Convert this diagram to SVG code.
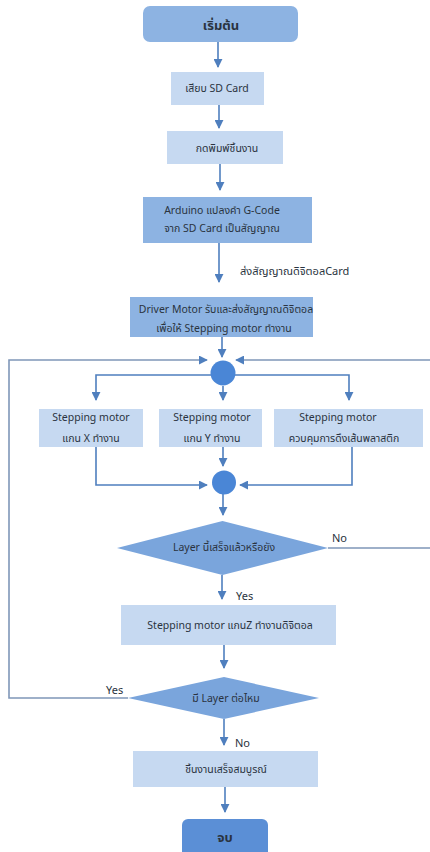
<svg xmlns="http://www.w3.org/2000/svg" width="430" height="852" viewBox="0 0 430 852">
<defs>
<style>
text{font-family:"Noto Sans","Noto Sans Thai","Open Sans",sans-serif;font-size:10.5px;fill:#2a3340;text-anchor:middle;dominant-baseline:central}
.b{font-weight:bold;font-size:13px}
.lbl{text-anchor:start;font-size:11px}
.light{fill:#c6d9f1}
.mid{fill:#8db3e2}
.dia{fill:#7aa5dc}
.term{fill:#8db3e2}
.end{fill:#5b8fd6}
.dot{fill:#4a86d6}
.c{fill:none;stroke:#4f7fbe;stroke-width:1.6}
.loop{fill:none;stroke:#7f97b8;stroke-width:1.6}
</style>
<marker id="ah" viewBox="0 0 10 10" refX="9" refY="5" markerWidth="9" markerHeight="9" markerUnits="userSpaceOnUse" orient="auto">
<path d="M0,0 L10,5 L0,10 z" fill="#4f7fbe"/>
</marker>
</defs>
<rect width="430" height="852" fill="#ffffff"/>

<g id="connectors">
<path class="c" d="M218,42 V67" marker-end="url(#ah)"/>
<path class="c" d="M219,105 V128" marker-end="url(#ah)"/>
<path class="c" d="M220,164 V190" marker-end="url(#ah)"/>
<path class="c" d="M219,243 V282" marker-end="url(#ah)"/>
<path class="c" d="M222,337 V357" marker-end="url(#ah)"/>
<path class="loop" d="M128,698 H9 V360 H207" marker-end="url(#ah)"/>
<path class="loop" d="M328,548 H432 V360 H236" marker-end="url(#ah)"/>
<path class="c" d="M211,375 H96 V400" marker-end="url(#ah)"/>
<path class="c" d="M235,375 H349 V400" marker-end="url(#ah)"/>
<path class="c" d="M223,386 V400" marker-end="url(#ah)"/>
<path class="c" d="M96,447 V485 H207" marker-end="url(#ah)"/>
<path class="c" d="M223,447 V466" marker-end="url(#ah)"/>
<path class="c" d="M352,447 V485 H240" marker-end="url(#ah)"/>
<path class="c" d="M223,494 V515" marker-end="url(#ah)"/>
<path class="c" d="M222,575 V599" marker-end="url(#ah)"/>
<path class="c" d="M224,645 V668" marker-end="url(#ah)"/>
<path class="c" d="M224,719 V745" marker-end="url(#ah)"/>
<path class="c" d="M225,787 V812" marker-end="url(#ah)"/>
<text class="lbl" x="240" y="270" font-size="12.5" fill="#111">ส่งสัญญาณดิจิตอลCard</text>
<text class="lbl" x="332" y="537">No</text>
<text class="lbl" x="236" y="595">Yes</text>
<text class="lbl" x="106" y="689">Yes</text>
<text class="lbl" x="235" y="742">No</text>
</g>

<g id="start">
<rect class="term" x="143" y="6" width="155" height="36" rx="7"/>
<text class="b" x="221" y="25">เริ่มต้น</text>
</g>
<g id="insert-sd">
<rect class="light" x="171" y="72" width="93" height="33"/>
<text x="217" y="88">เสียบ SD Card</text>
</g>
<g id="print">
<rect class="light" x="167" y="131" width="116" height="33"/>
<text x="227" y="148">กดพิมพ์ชิ้นงาน</text>
</g>
<g id="arduino">
<rect class="mid" x="143" y="197" width="169" height="46"/>
<text x="222" y="210">Arduino แปลงคำ G-Code</text>
<text x="222" y="228">จาก SD Card เป็นสัญญาณ</text>
</g>
<g id="driver">
<rect class="mid" x="130" y="297" width="183" height="40"/>
<text x="226" y="309" font-size="10">Driver Motor รับและส่งสัญญาณดิจิตอล</text>
<text x="224" y="328">เพื่อให้ Stepping motor ทำงาน</text>
</g>
<g id="split">
<circle class="dot" cx="223" cy="373" r="12.5"/>
</g>
<g id="motor-x">
<rect class="light" x="39" y="409" width="104" height="38"/>
<text x="91" y="417">Stepping motor</text>
<text x="91" y="438">แกน X ทำงาน</text>
</g>
<g id="motor-y">
<rect class="light" x="159" y="409" width="103" height="38"/>
<text x="212" y="417">Stepping motor</text>
<text x="212" y="438">แกน Y ทำงาน</text>
</g>
<g id="motor-e">
<rect class="light" x="274" y="409" width="149" height="38"/>
<text x="338" y="417">Stepping motor</text>
<text x="344" y="438">ควบคุมการดึงเส้นพลาสติก</text>
</g>
<g id="join">
<circle class="dot" cx="224" cy="482.5" r="12"/>
</g>
<g id="layer-done">
<polygon class="dia" points="117,548 222.5,521 328,548 222.5,575"/>
<text x="224" y="547">Layer นี้เสร็จแล้วหรือยัง</text>
</g>
<g id="motor-z">
<rect class="light" x="121" y="605" width="215" height="40"/>
<text x="230" y="625">Stepping motor แกนZ ทำงานดิจิตอล</text>
</g>
<g id="more-layer">
<polygon class="dia" points="128,698 224,677 319,698 224,719"/>
<text x="226" y="698">มี Layer ต่อไหม</text>
</g>
<g id="complete">
<rect class="light" x="133" y="751" width="185" height="36"/>
<text x="226" y="769">ชิ้นงานเสร็จสมบูรณ์</text>
</g>
<g id="end">
<rect class="end" x="182" y="819" width="86" height="45" rx="6"/>
<text class="b" x="225" y="837">จบ</text>
</g>
</svg>
